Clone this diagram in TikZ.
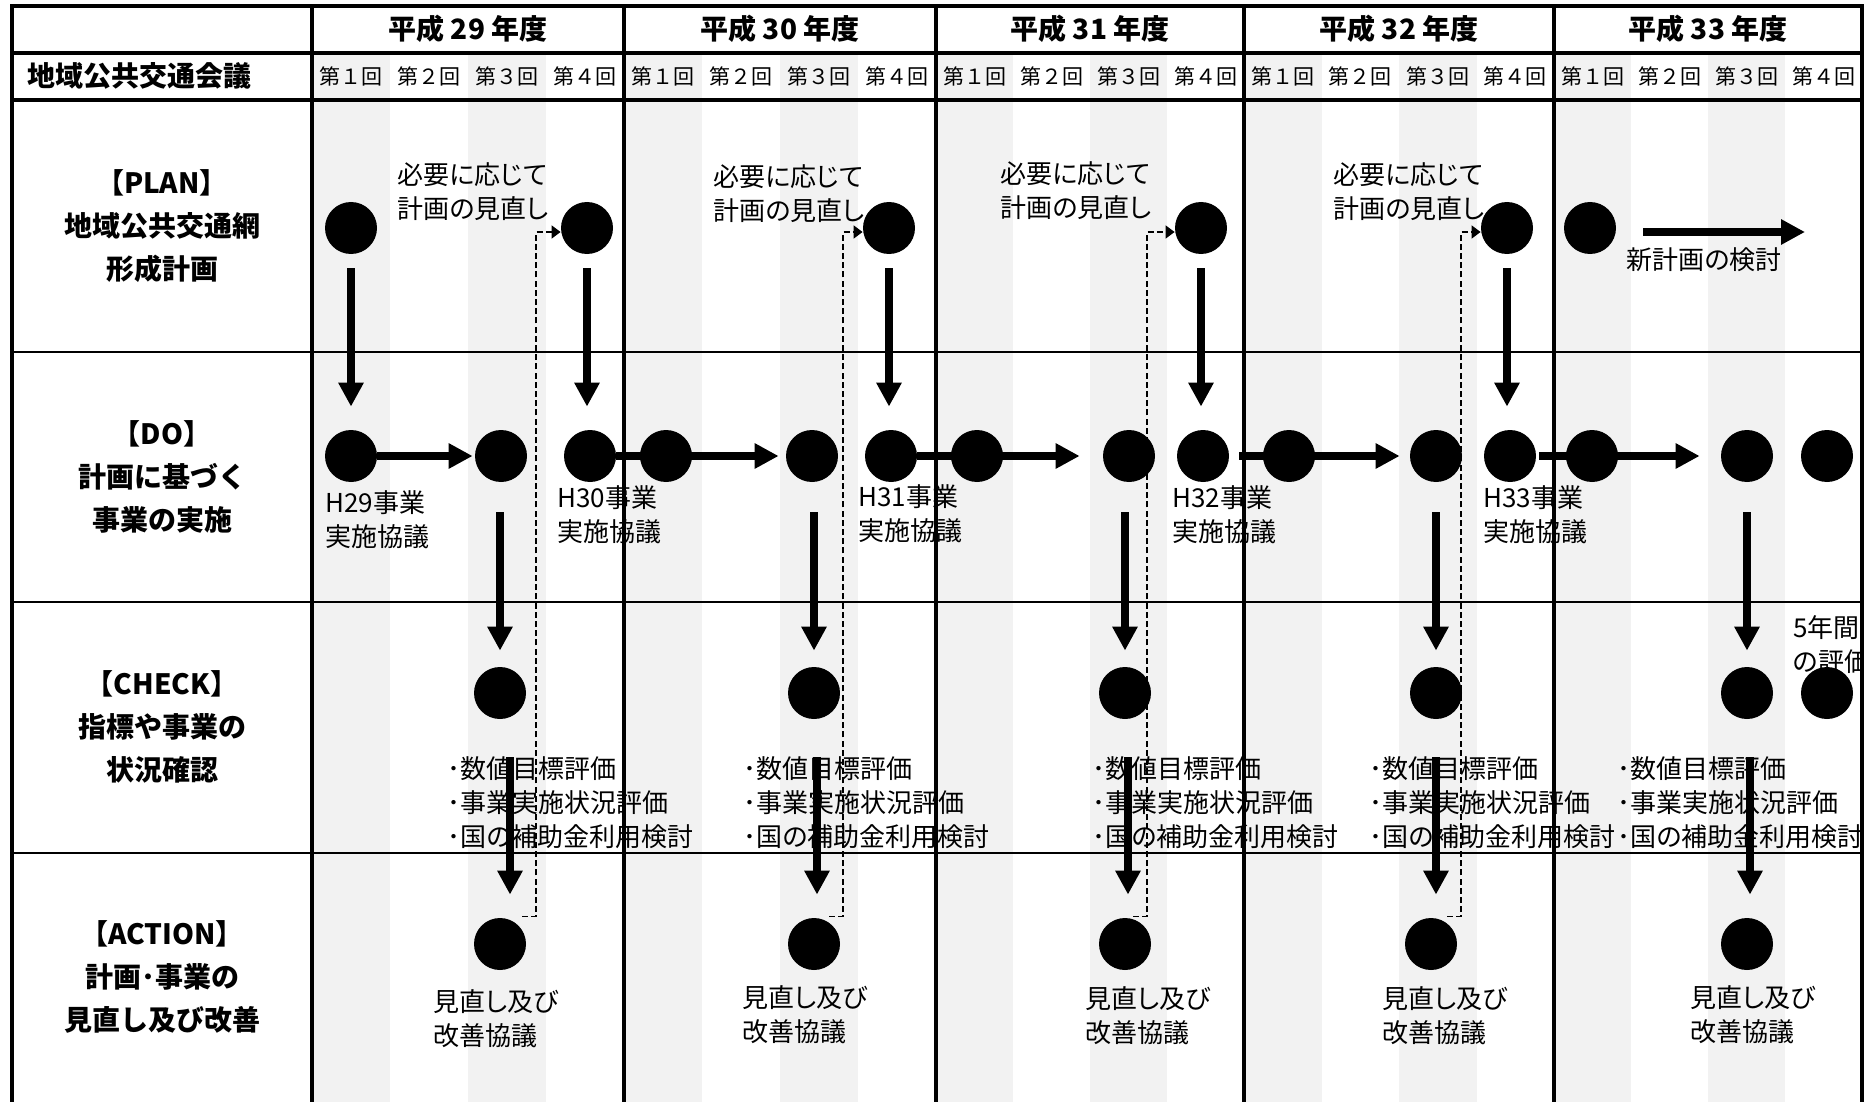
\documentclass[tikz,border=0pt]{standalone}
\usepackage{fontspec}
\setmainfont{Noto Sans CJK JP}
\usetikzlibrary{arrows.meta}
\definecolor{stripe}{HTML}{F2F2F2}
\begin{document}
\begin{tikzpicture}[x=0.5pt,y=-0.5pt,
  dot/.style={circle,fill=black,draw=none,inner sep=0pt,minimum size=26pt},
  bigarrow/.style={line width=4pt,-{Triangle[length=12pt,width=12pt]}},
  dasharrow/.style={line width=0.7pt,dash pattern=on 3pt off 1.6pt,-{Triangle[length=4.5pt,width=6.5pt]}},
  gridthick/.style={line width=1.6pt,line cap=rect},
  gridthin/.style={line width=0.85pt},
  body/.style={font=\fontsize{13}{17}\selectfont\addfontfeatures{RawFeature=+palt},align=left,inner sep=0pt,anchor=west},
  lbl/.style={font=\bfseries\fontsize{14}{21.5}\selectfont,align=center,inner sep=0pt},
  rnd/.style={font=\fontsize{10.5}{12}\selectfont,inner sep=0pt},
  yr/.style={font=\bfseries\fontsize{14}{16}\selectfont,inner sep=0pt}
]
\useasboundingbox (0,0) rectangle (1876,1102);
\fill[white] (0,0) rectangle (1876,1102);

\begin{scope}
\clip (0,0) rectangle (1861,1102);
% stripes, year headers, round headers
\foreach \s/\w/\y [count=\i] in {312/312/29,624/312/30,936/308/31,1244/310/32,1554/308/33}{
  \fill[stripe] (\s,53) rectangle ({\s+\w/4},1102);
  \fill[stripe] ({\s+\w/2},53) rectangle ({\s+3*\w/4},1102);
  \node[yr] (y\i) at ({\s+\w/2},29) {平成 \y{} 年度};
  \foreach \j/\d in {1/１,2/２,3/３,4/４}{
    \node[rnd] (r\i\j) at ({\s+(\j-0.5)*\w/4},76) {第\d 回};
  }
}

% left labels
\node[yr,anchor=west] (lhead) at (27,76) {地域公共交通会議};
\node[lbl] (lplan) at (162,226) {【PLAN】\\地域公共交通網\\形成計画};
\node[lbl] (ldo) at (162,477) {【DO】\\計画に基づく\\事業の実施};
\node[lbl] (lchk) at (162,727) {【CHECK】\\指標や事業の\\状況確認};
\node[lbl] (lact) at (162,977) {【ACTION】\\計画･事業の\\見直し及び改善};

% texts
\node[body] (tm1) at (397,192) {必要に応じて\\計画の見直し};
\node[body] (tm2) at (713,194) {必要に応じて\\計画の見直し};
\node[body] (tm3) at (1000,191) {必要に応じて\\計画の見直し};
\node[body] (tm4) at (1333,192) {必要に応じて\\計画の見直し};
\node[body] (th1) at (325,520) {H29事業\\実施協議};
\node[body] (th2) at (557,515) {H30事業\\実施協議};
\node[body] (th3) at (858,514) {H31事業\\実施協議};
\node[body] (th4) at (1172,515) {H32事業\\実施協議};
\node[body] (th5) at (1483,515) {H33事業\\実施協議};
\node[body] (tc1) at (447,803) {･数値目標評価\\･事業実施状況評価\\･国の補助金利用検討};
\node[body] (tc2) at (743,803) {･数値目標評価\\･事業実施状況評価\\･国の補助金利用検討};
\node[body] (tc3) at (1092,803) {･数値目標評価\\･事業実施状況評価\\･国の補助金利用検討};
\node[body] (tc4) at (1369,803) {･数値目標評価\\･事業実施状況評価\\･国の補助金利用検討};
\node[body] (tc5) at (1617,803) {･数値目標評価\\･事業実施状況評価\\･国の補助金利用検討};
\node[body] (ta1) at (433,1019) {見直し及び\\改善協議};
\node[body] (ta2) at (742,1015) {見直し及び\\改善協議};
\node[body] (ta3) at (1085,1016) {見直し及び\\改善協議};
\node[body] (ta4) at (1382,1016) {見直し及び\\改善協議};
\node[body] (ta5) at (1690,1015) {見直し及び\\改善協議};
\node[body] (tnew) at (1626,260) {新計画の検討};
\node[body] (t5y) at (1793,645) {5年間\\の評価};

% dots
\foreach \n/\x in {pA1/351,pA4/587,pB4/889,pC4/1201,pD4/1507,pE1/1590}{\node[dot] (\n) at (\x,228) {};}
\foreach \n/\x in {dA1/351,dA3/501,dA4/590,dB1/666,dB3/812,dB4/891,dC1/977,dC3/1129,dC4/1203,dD1/1289,dD3/1436,dD4/1510,dE1/1592,dE3/1747,dE4/1827}{\node[dot] (\n) at (\x,456) {};}
\foreach \n/\x in {cA/500,cB/814,cC/1125,cD/1436,cE/1747,cE4/1827}{\node[dot] (\n) at (\x,693) {};}
\foreach \n/\x in {aA/500,aB/814,aC/1125,aD/1431,aE/1747}{\node[dot] (\n) at (\x,944) {};}

% PLAN -> DO
\foreach \p/\d in {pA1/dA1,pA4/dA4,pB4/dB4,pC4/dC4,pD4/dD4}{
  \draw[bigarrow,shorten <=7pt,shorten >=11.5pt] (\p.south) -- (\p.south |- \d.north);
}
% DO -> CHECK
\foreach \d/\c in {dA3/cA,dB3/cB,dC3/cC,dD3/cD,dE3/cE}{
  \draw[bigarrow,shorten <=15pt,shorten >=8pt] (\c.north |- \d.south) -- (\c.north);
}
% CHECK -> ACTION
\foreach \c/\a/\sh in {cA/aA/5pt,cB/aB/1.5pt,cC/aC/1.5pt,cD/aD/0pt,cE/aE/1.5pt}{
  \draw[bigarrow,shorten <=19pt,shorten >=11.5pt] ([xshift=\sh]\c.south) -- ([xshift=\sh]\c.south |- \a.north);
}
% DO horizontal
\draw[bigarrow,shorten >=1pt] (dA1.east) -- (dA3.west);
\draw[bigarrow,shorten >=3.5pt] (dA4.east) -- (dB3.west);
\draw[bigarrow,shorten >=11.5pt] (dB4.east) -- (dC3.west);
\draw[bigarrow,shorten <=5pt,shorten >=5pt] (dC4.east) -- (dD3.west);
\draw[bigarrow,shorten <=1.5pt,shorten >=10.5pt] (dD4.east) -- (dE3.west);
% new plan
\coordinate (nEnd) at (1805,232);
\draw[bigarrow] ([xshift=13.5pt,yshift=-2pt]pE1.east) -- (nEnd);

% dashed feedback
\coordinate (kA) at (536,0);
\coordinate (kB) at (843,0);
\coordinate (kC) at (1147,0);
\coordinate (kD) at (1461,0);
\foreach \k/\a/\p in {kA/aA/pA4,kB/aB/pB4,kC/aC/pC4,kD/aD/pD4}{
  \draw[dasharrow] (\k |- \a.north) ++(-14,-1) -- ([yshift=0.5pt]\k |- \a.north) -- ([yshift=-2pt]\k |- \p.west) -- ([yshift=-2pt]\p.west);
}
\end{scope}

% grid
\foreach \yy in {6,53,100}{\draw[gridthick] (12,\yy) -- (1862,\yy);}
\foreach \yy in {352,602,853}{\draw[gridthin] (12,\yy) -- (1862,\yy);}
\foreach \xx in {12,312,624,936,1244,1554,1862}{\draw[gridthick] (\xx,6) -- (\xx,1104);}
\end{tikzpicture}
\end{document}
